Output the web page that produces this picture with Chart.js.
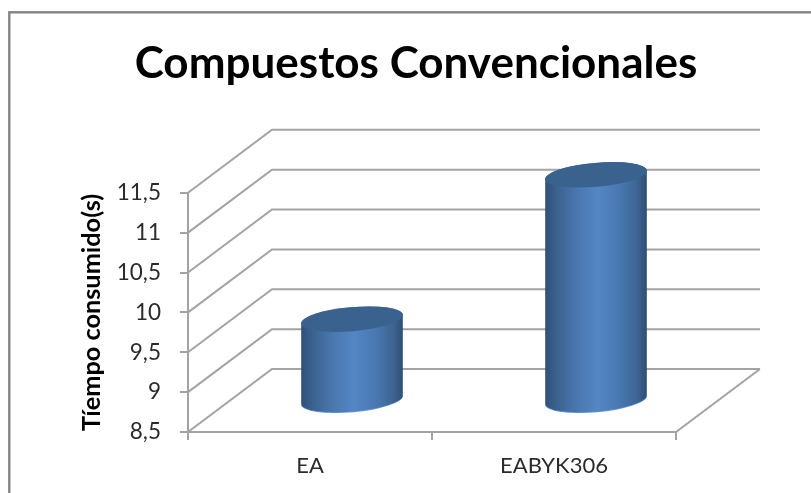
<!DOCTYPE html>
<html>
<head>
<meta charset="utf-8">
<title>Compuestos Convencionales</title>
<script src="https://cdn.jsdelivr.net/npm/chart.js@4/dist/chart.umd.min.js"></script>
<style>
  html, body { margin: 0; padding: 0; background: #fff; overflow: hidden; }
  canvas { display: block; filter: blur(0.35px); }
</style>
</head>
<body>
<canvas id="chart" width="811" height="493"></canvas>
<script>
const categories = ['EA', 'EABYK306'];
const tiempos = [9.52, 11.33];
const yMin = 8.5;
const yMax = 11.5;
const yStep = 0.5;

const gridColor = '#a3a3a3';
const textColor = '#2b2b2b';
const fontName = 'Lato, Carlito, sans-serif';

// Depth of the fake 3D box, the cylinders sit halfway into it
const depthX = 84;
const depthY = -63;

// White page and the frame around the chart (right and bottom run off the page)
const framePlugin = {
  id: 'frame',
  beforeDraw(chart) {
    const ctx = chart.ctx;
    ctx.save();
    ctx.fillStyle = '#fff';
    ctx.fillRect(0, 0, chart.width, chart.height);
    ctx.strokeStyle = '#858585';
    ctx.lineWidth = 2.4;
    ctx.strokeRect(9.3, 12.3, chart.width + 20, chart.height + 20);
    ctx.restore();
  }
};

// Side wall, back wall and floor lines, taken from the y scale
const wallsPlugin = {
  id: 'walls',
  beforeDatasetsDraw(chart) {
    const { ctx, scales, chartArea } = chart;
    const yScale = scales.y;
    ctx.save();
    ctx.strokeStyle = gridColor;
    ctx.lineWidth = 2;
    yScale.ticks.forEach(tick => {
      const y = yScale.getPixelForValue(tick.value);
      ctx.beginPath();
      ctx.moveTo(chartArea.left, y);
      ctx.lineTo(chartArea.left + depthX, y + depthY);
      ctx.lineTo(chartArea.right + depthX, y + depthY);
      ctx.stroke();
    });
    // right edge of the floor
    ctx.beginPath();
    ctx.moveTo(chartArea.right, chartArea.bottom);
    ctx.lineTo(chartArea.right + depthX, chartArea.bottom + depthY);
    ctx.stroke();
    ctx.restore();
  }
};

// Cylinders, placed from each bar element
const cylinderPlugin = {
  id: 'cylinders',
  afterDatasetsDraw(chart) {
    const ctx = chart.ctx;
    const bars = chart.getDatasetMeta(0).data;
    const rot = -5 * Math.PI / 180;
    bars.forEach(bar => {
      const cx = bar.x + depthX / 2;
      const rx = bar.width / 2;
      const ry = 12;
      const topY = bar.y + depthY / 2;
      const baseY = bar.base + depthY / 2;

      const grad = ctx.createLinearGradient(cx - rx, 0, cx + rx, 0);
      grad.addColorStop(0, '#305178');
      grad.addColorStop(0.12, '#3b6390');
      grad.addColorStop(0.32, '#4a78b0');
      grad.addColorStop(0.52, '#5486c5');
      grad.addColorStop(0.72, '#4a79b2');
      grad.addColorStop(0.9, '#3d6594');
      grad.addColorStop(1, '#2f4e73');

      ctx.save();
      // light rim under the bottom edge
      ctx.beginPath();
      ctx.ellipse(cx, baseY + 0.8, rx, ry, rot, 0, Math.PI);
      ctx.closePath();
      ctx.fillStyle = '#5d94dc';
      ctx.fill();

      ctx.beginPath();
      ctx.ellipse(cx, baseY, rx, ry, rot, 0, Math.PI);
      ctx.ellipse(cx, topY, rx, ry, rot, Math.PI, Math.PI * 2);
      ctx.closePath();
      ctx.fillStyle = grad;
      ctx.fill();

      ctx.beginPath();
      ctx.ellipse(cx, topY, rx, ry, rot, 0, Math.PI * 2);
      ctx.fillStyle = '#3a628f';
      ctx.fill();
      ctx.restore();
    });
  }
};

new Chart(document.getElementById('chart'), {
  type: 'bar',
  data: {
    labels: categories,
    datasets: [{
      data: tiempos,
      base: yMin,
      backgroundColor: 'rgba(0,0,0,0)',
      barThickness: 102
    }]
  },
  options: {
    responsive: false,
    animation: false,
    layout: { padding: { left: 21, right: 0, top: 0, bottom: 0 } },
    plugins: {
      legend: { display: false },
      tooltip: { enabled: false },
      title: {
        display: true,
        text: 'Compuestos Convencionales',
        color: '#000',
        font: { family: fontName, size: 44, weight: 'bold' },
        padding: { top: 37.5, bottom: 102.5 }
      }
    },
    scales: {
      x: {
        afterFit(scale) { scale.height = 61; },
        grid: { drawOnChartArea: false, color: gridColor, lineWidth: 2, tickLength: 8 },
        border: { color: gridColor, width: 2 },
        ticks: { color: textColor, font: { family: fontName, size: 22 }, padding: 13 }
      },
      y: {
        min: yMin,
        max: yMax,
        afterFit(scale) { scale.width = 167; },
        title: {
          display: true,
          text: 'Tíempo consumido(s)',
          color: '#000',
          font: { family: fontName, size: 25.3, weight: 'bold' },
          padding: { top: 56, bottom: 0 }
        },
        grid: { drawOnChartArea: false, color: gridColor, lineWidth: 2, tickLength: 8 },
        border: { color: gridColor, width: 2 },
        ticks: {
          stepSize: yStep,
          color: textColor,
          font: { family: fontName, size: 22.5 },
          padding: 19,
          callback: value => String(value).replace('.', ',')
        }
      },
      // empty axis that only reserves the space to the right of the box
      spacer: {
        position: 'right',
        afterFit(scale) { scale.width = 135; },
        grid: { display: false },
        border: { display: false },
        ticks: { display: false }
      }
    }
  },
  plugins: [framePlugin, wallsPlugin, cylinderPlugin]
});
</script>
</body>
</html>
